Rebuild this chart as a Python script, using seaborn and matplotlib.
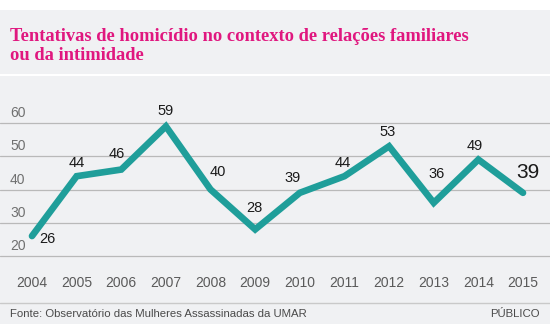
import matplotlib
matplotlib.use("Agg")
import matplotlib.pyplot as plt
import matplotlib.transforms as mtransforms
from matplotlib.lines import Line2D
from matplotlib.patches import Rectangle
import seaborn as sns
import pandas as pd

years = [2004, 2005, 2006, 2007, 2008, 2009, 2010, 2011, 2012, 2013, 2014, 2015]
attempts = [26, 44, 46, 59, 40, 28, 39, 44, 53, 36, 49, 39]
y_ticks = [20, 30, 40, 50, 60]
title = "Tentativas de homicídio no contexto de relações familiares\nou da intimidade"
source = "Fonte: Observatório das Mulheres Assassinadas da UMAR"
brand = "PÚBLICO"

# label offsets from each point, in pixels
label_dx = [15, 0, -5, 0, 7, -1, -7, -2, -2, 3, -4, 5]
label_dy = [-3, 13, 16, 15, 17, 21, 15, 13, 14, 29, 14, 20]

df = pd.DataFrame({"year": years, "value": attempts})

sns.set_theme(style="white")
plt.rcParams["font.family"] = ["Liberation Sans", "DejaVu Sans"]

BG = "#f0f1f3"
TEAL = "#1f9e9a"
PINK = "#e0177f"
GRID = "#b9b9b9"

W, H = 550, 324
fig = plt.figure(figsize=(W / 100, H / 100), dpi=100, facecolor=BG)

# white strip along the top, white rule under the title block
fig.patches.append(Rectangle((0, 1 - 10 / H), 1, 10 / H, transform=fig.transFigure,
                             facecolor="white", edgecolor="none", zorder=0))
fig.lines.append(Line2D([0, 1], [1 - 74.5 / H] * 2, transform=fig.transFigure,
                        color="white", lw=1.5))
fig.lines.append(Line2D([0, 1], [1 - 303 / H] * 2, transform=fig.transFigure,
                        color="#c9c9c9", lw=1))

fig.text(10 / W, 1 - 28 / H, title, ha="left", va="top", color=PINK,
         fontsize=13.3, fontweight="bold", family=["Liberation Serif", "DejaVu Serif"],
         linespacing=1.12)

ax_top, ax_bot = 80, 270
ax = fig.add_axes([0, 1 - ax_bot / H, 1, (ax_bot - ax_top) / H])
ax.set_facecolor("none")

sns.lineplot(data=df, x="year", y="value", ax=ax, color=TEAL, linewidth=4.8,
             solid_capstyle="round", solid_joinstyle="miter")

# scale: 2004 at x=32px, 2015 at x=523px; 20 at y=256px, 60 at y=123px
px_per_year = (523 - 32) / 11
ax.set_xlim(2004 - 32 / px_per_year, 2015 + (W - 523) / px_per_year)
px_per_unit = (256 - 123) / 40
ax.set_ylim(20 - (ax_bot - 256) / px_per_unit, 60 + (123 - ax_top) / px_per_unit)

for v in y_ticks:
    ax.axhline(v, color=GRID, lw=0.9, zorder=0)
    ax.text(10 / W, v + 3 / px_per_unit, str(v), transform=mtransforms.blended_transform_factory(ax.transAxes, ax.transData),
            ha="left", va="bottom", fontsize=10, color="#707070")

ax.set_yticks([])
ax.set_xticks(years)
ax.set_xticklabels([str(y) for y in years], fontsize=10, color="#5a5a5a")
ax.tick_params(axis="x", length=0, pad=4)
ax.set_xlabel("")
ax.set_ylabel("")
for s in ax.spines.values():
    s.set_visible(False)

for i, (x, v) in enumerate(zip(years, attempts)):
    big = i == len(years) - 1
    ax.annotate(str(v), (x, v), xytext=(label_dx[i], label_dy[i]), textcoords="offset pixels",
                ha="center", va="center", fontsize=15 if big else 10.5, color="#1a1a1a")

fig.text(10 / W, 1 - 314 / H, source, ha="left", va="center", fontsize=8.2, color="#4a4a4a")
fig.text(540 / W, 1 - 314 / H, brand, ha="right", va="center", fontsize=8.2, color="#4a4a4a")

fig.savefig("out.png", dpi=100, facecolor=BG)
